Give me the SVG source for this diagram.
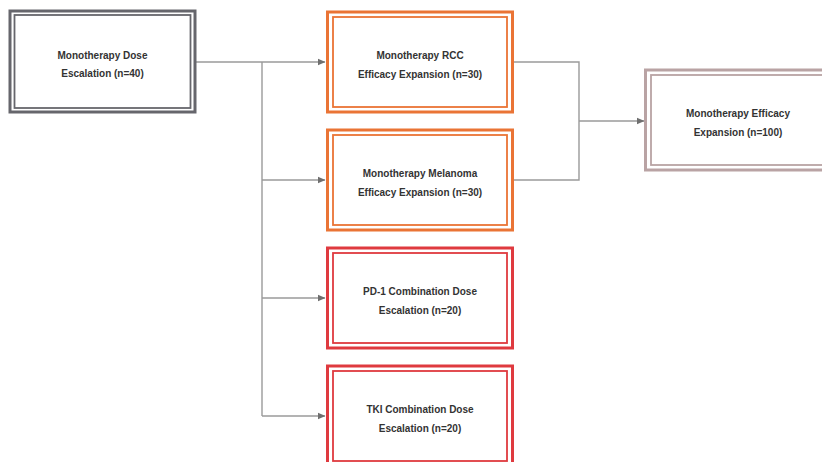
<svg xmlns="http://www.w3.org/2000/svg" width="822" height="462" viewBox="0 0 822 462">
<style>
.bg{fill:#ffffff}
.o{fill:#ffffff;stroke-width:3}
.i{fill:none;stroke-width:1.8}
.gray{stroke:#66666c}
.orange{stroke:#ea7435}
.red{stroke:#df3a3f}
.mauve{stroke:#b9a3a4}
.t{font-family:"Liberation Sans",Arial,sans-serif;font-size:10px;font-weight:bold;fill:#333333;text-anchor:middle}
.c{fill:none;stroke:#9a9a9a;stroke-width:1.4}
</style>
<defs>
<marker id="ah" markerWidth="8" markerHeight="8" refX="7" refY="4" orient="auto" markerUnits="userSpaceOnUse">
<path d="M0,0.8 L7.5,4 L0,7.2 Z" fill="#6f6f6f"/>
</marker>
</defs>
<rect class="bg" x="0" y="0" width="822" height="462"/>
<g id="connectors">
<path class="c" d="M195,62 H325" marker-end="url(#ah)"/>
<path class="c" d="M262,62 V416"/>
<path class="c" d="M262,180 H325" marker-end="url(#ah)"/>
<path class="c" d="M262,298 H325" marker-end="url(#ah)"/>
<path class="c" d="M262,416 H325" marker-end="url(#ah)"/>
<path class="c" d="M513,62 H579 V180 H513"/>
<path class="c" d="M579,121 H644" marker-end="url(#ah)"/>
</g>
<g id="n1">
<rect class="o gray" x="10" y="11" width="185" height="101"/>
<rect class="i gray" x="14.5" y="15" width="176" height="93"/>
<text class="t" x="102.5" y="58.5">Monotherapy Dose</text>
<text class="t" x="102.5" y="77">Escalation (n=40)</text>
</g>
<g id="n2">
<rect class="o orange" x="327.5" y="12" width="185" height="100"/>
<rect class="i orange" x="333" y="17" width="174" height="90"/>
<text class="t" x="420" y="59">Monotherapy RCC</text>
<text class="t" x="420" y="77.5">Efficacy Expansion (n=30)</text>
</g>
<g id="n3">
<rect class="o orange" x="327.5" y="130" width="185" height="100"/>
<rect class="i orange" x="333" y="135" width="174" height="90"/>
<text class="t" x="420" y="177">Monotherapy Melanoma</text>
<text class="t" x="420" y="195.5">Efficacy Expansion (n=30)</text>
</g>
<g id="n4">
<rect class="o red" x="327.5" y="248" width="185" height="100"/>
<rect class="i red" x="333" y="253" width="174" height="90"/>
<text class="t" x="420" y="295">PD-1 Combination Dose</text>
<text class="t" x="420" y="313.5">Escalation (n=20)</text>
</g>
<g id="n5">
<rect class="o red" x="327.5" y="366" width="185" height="100"/>
<rect class="i red" x="333" y="371" width="174" height="90"/>
<text class="t" x="420" y="413">TKI Combination Dose</text>
<text class="t" x="420" y="431.5">Escalation (n=20)</text>
</g>
<g id="n6">
<rect class="o mauve" x="645.5" y="70" width="185" height="100"/>
<rect class="i mauve" x="651" y="75" width="174" height="90"/>
<text class="t" x="738" y="117">Monotherapy Efficacy</text>
<text class="t" x="738" y="135.5">Expansion (n=100)</text>
</g>
</svg>
